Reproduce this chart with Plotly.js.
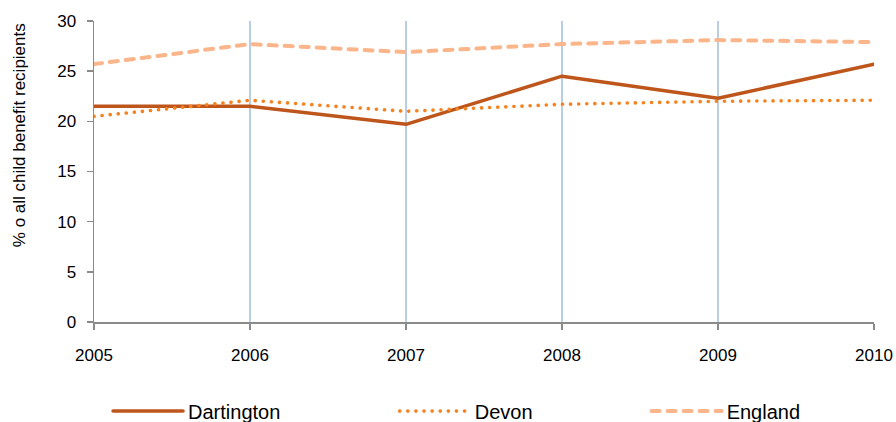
<!DOCTYPE html>
<html>
<head>
<meta charset="utf-8">
<script src="https://cdn.plot.ly/plotly-3.0.1.min.js"></script>
<style>
html,body{margin:0;padding:0;background:#fff;}
#chart{width:896px;height:422px;}
.scatterlayer path.js-line, .legendlines path { stroke-linecap: round; stroke-linejoin: round; }
</style>
</head>
<body>
<div id="chart"></div>
<script>
var years = [2005, 2006, 2007, 2008, 2009, 2010];
var dartington = [21.5, 21.5, 19.7, 24.5, 22.3, 25.7];
var devon = [20.5, 22.1, 21.0, 21.7, 22.0, 22.1];
var england = [25.7, 27.7, 26.9, 27.7, 28.1, 27.9];
var yTicks = [0, 5, 10, 15, 20, 25, 30];
var yTitle = '% o all child benefit recipients';

var fontFam = 'Arial, "Liberation Sans", sans-serif';

var traces = [
  {x: years, y: dartington, name: 'Dartington', mode: 'lines', legend: 'legend',
   line: {color: '#be561c', width: 3.5}},
  {x: years, y: devon, name: 'Devon', mode: 'lines', legend: 'legend2',
   line: {color: '#f5821f', width: 3.6, dash: '0.1px,8px'}},
  {x: years, y: england, name: 'England', mode: 'lines', legend: 'legend3',
   line: {color: '#fbb58a', width: 4, dash: '8px,8px'}}
];

var legBase = {orientation: 'h', yanchor: 'middle', y: -0.296, xanchor: 'left',
  font: {family: fontFam, size: 20, color: '#000'}, itemwidth: 70, bgcolor: 'rgba(0,0,0,0)'};

var layout = {
  width: 896, height: 422,
  margin: {l: 94, r: 22, t: 21, b: 100, autoexpand: false},
  paper_bgcolor: '#fff', plot_bgcolor: '#fff',
  font: {family: fontFam, size: 17, color: '#000'},
  showlegend: true,
  xaxis: {
    range: [2005, 2010], tickvals: years, ticktext: years.map(String),
    showgrid: true, gridcolor: '#b9cde5', gridwidth: 1.5,
    showline: true, linecolor: '#8a8a8a', linewidth: 1.5,
    ticks: 'outside', ticklen: 6, tickcolor: '#8a8a8a', tickwidth: 1.5,
    ticklabelstandoff: 11, zeroline: false,
    tickfont: {family: fontFam, size: 17, color: '#000'}
  },
  yaxis: {
    range: [0, 30], tickvals: yTicks, ticktext: yTicks.map(String),
    showgrid: false, zeroline: false,
    showline: true, linecolor: '#8a8a8a', linewidth: 1.5,
    ticks: 'outside', ticklen: 6, tickcolor: '#8a8a8a', tickwidth: 1.5,
    ticklabelstandoff: 7,
    tickfont: {family: fontFam, size: 17, color: '#000'}
  },
  annotations: [{
    text: yTitle, xref: 'paper', yref: 'paper', x: -0.096, y: 0.621,
    xanchor: 'center', yanchor: 'middle', textangle: -90, showarrow: false,
    font: {family: fontFam, size: 17, color: '#000'}
  }],
  legend: Object.assign({}, legBase, {x: 0.018}),
  legend2: Object.assign({}, legBase, {x: 0.3855}),
  legend3: Object.assign({}, legBase, {x: 0.7085})
};

Plotly.newPlot('chart', traces, layout, {displayModeBar: false, staticPlot: true});
</script>
</body>
</html>
